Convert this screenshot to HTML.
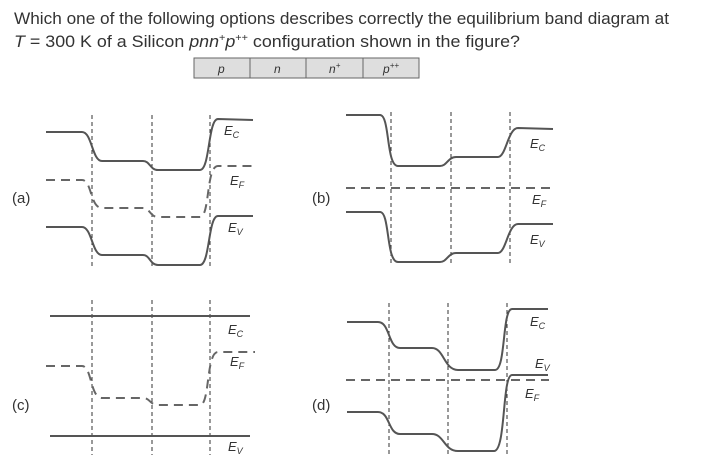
<!DOCTYPE html>
<html><head><meta charset="utf-8"><style>
body{margin:0;background:#fff;width:720px;height:468px;overflow:hidden}
svg{display:block}
text{font-family:"Liberation Sans",sans-serif;fill:#333}
.s{fill:none;stroke:#555;stroke-width:2}
.d{fill:none;stroke:#666;stroke-width:2;stroke-dasharray:9 6}
.v{stroke:#333;stroke-width:1;stroke-dasharray:4 3}
.l{font-style:italic;font-size:13px}
.p{font-size:15px}
</style></head><body>
<svg width="720" height="468" viewBox="0 0 720 468">
<text x="14" y="24" font-size="16.5" textLength="655" lengthAdjust="spacingAndGlyphs">Which one of the following options describes correctly the equilibrium band diagram at</text>
<text x="14" y="47" font-size="16.5" textLength="506" lengthAdjust="spacingAndGlyphs"><tspan font-style="italic">T</tspan> = 300 K of a Silicon <tspan font-style="italic">pnn</tspan><tspan font-size="10" dy="-6">+</tspan><tspan dy="6" font-style="italic">p</tspan><tspan font-size="10" dy="-6">++</tspan><tspan dy="6"> configuration shown in the figure?</tspan></text>
<rect x="194" y="58" width="225" height="20" fill="#dedede" stroke="#666"/>
<line x1="250" y1="58" x2="250" y2="78" stroke="#666"/><line x1="306" y1="58" x2="306" y2="78" stroke="#666"/><line x1="363" y1="58" x2="363" y2="78" stroke="#666"/>
<g font-style="italic" font-size="12"><text x="218" y="73">p</text><text x="274" y="73">n</text><text x="329" y="73">n<tspan font-size="8" dy="-5">+</tspan></text><text x="383" y="73">p<tspan font-size="8" dy="-5">++</tspan></text></g>

<!-- (a) -->
<g class="v"><line x1="92" y1="115" x2="92" y2="268"/><line x1="152" y1="115" x2="152" y2="268"/><line x1="210" y1="115" x2="210" y2="268"/></g>
<path class="s" d="M46 132 L82 132 C92 132 92 161 102 161 L143 161 C150 161 150 170 158 170 L200 170 C210 170 208 119 218 119 L253 120"/>
<path class="d" d="M46 180 L82 180 C92 180 90 208 102 208 L143 208 C150 208 150 217 158 217 L200 217 C210 217 206 166 218 166 L255 166"/>
<path class="s" d="M46 227 L82 227 C92 227 92 255 102 255 L143 255 C150 255 150 265 158 265 L200 265 C210 265 208 216 218 216 L253 216"/>
<text class="l" x="224" y="135">E<tspan font-size="9" dy="3">C</tspan></text>
<text class="l" x="230" y="185">E<tspan font-size="9" dy="3">F</tspan></text>
<text class="l" x="228" y="232">E<tspan font-size="9" dy="3">V</tspan></text>
<text class="p" x="12" y="203">(a)</text>

<!-- (b) -->
<g class="v"><line x1="391" y1="112" x2="391" y2="265"/><line x1="451" y1="112" x2="451" y2="265"/><line x1="510" y1="112" x2="510" y2="265"/></g>
<path class="s" d="M346 115 L380 115 C390 115 386 166 398 166 L440 166 C447 166 448 157 456 157 L498 157 C506 157 508 128 518 128 L553 129"/>
<path class="d" d="M346 188 L553 188"/>
<path class="s" d="M346 212 L380 212 C390 212 386 262 398 262 L440 262 C447 262 448 253 456 253 L498 253 C506 253 508 224 518 224 L553 224"/>
<text class="l" x="530" y="148">E<tspan font-size="9" dy="3">C</tspan></text>
<text class="l" x="532" y="204">E<tspan font-size="9" dy="3">F</tspan></text>
<text class="l" x="530" y="244">E<tspan font-size="9" dy="3">V</tspan></text>
<text class="p" x="312" y="203">(b)</text>

<!-- (c) -->
<g class="v"><line x1="92" y1="300" x2="92" y2="455"/><line x1="152" y1="300" x2="152" y2="455"/><line x1="210" y1="300" x2="210" y2="455"/></g>
<path class="s" d="M50 316 L250 316"/>
<path class="s" d="M50 436 L250 436"/>
<path class="d" d="M46 366 L82 366 C92 366 90 398 102 398 L143 398 C150 398 150 405 158 405 L200 405 C210 405 206 352 218 352 L255 352"/>
<text class="l" x="228" y="334">E<tspan font-size="9" dy="3">C</tspan></text>
<text class="l" x="230" y="366">E<tspan font-size="9" dy="3">F</tspan></text>
<text class="l" x="228" y="451">E<tspan font-size="9" dy="3">V</tspan></text>
<text class="p" x="12" y="410">(c)</text>

<!-- (d) -->
<g class="v"><line x1="389" y1="303" x2="389" y2="455"/><line x1="448" y1="303" x2="448" y2="455"/><line x1="507" y1="303" x2="507" y2="455"/></g>
<path class="s" d="M347 322 L378 322 C390 322 388 348 400 348 L432 348 C444 348 444 370 458 370 L495 370 C506 370 502 309 512 309 L548 309"/>
<path class="d" d="M346 380 L549 380"/>
<path class="s" d="M347 412 L378 412 C390 412 388 434 400 434 L432 434 C444 434 444 451 458 451 L494 451 C506 451 502 375 512 375 L548 375"/>
<text class="l" x="530" y="326">E<tspan font-size="9" dy="3">C</tspan></text>
<text class="l" x="535" y="368">E<tspan font-size="9" dy="3">V</tspan></text>
<text class="l" x="525" y="398">E<tspan font-size="9" dy="3">F</tspan></text>
<text class="p" x="312" y="410">(d)</text>
</svg>
</body></html>
